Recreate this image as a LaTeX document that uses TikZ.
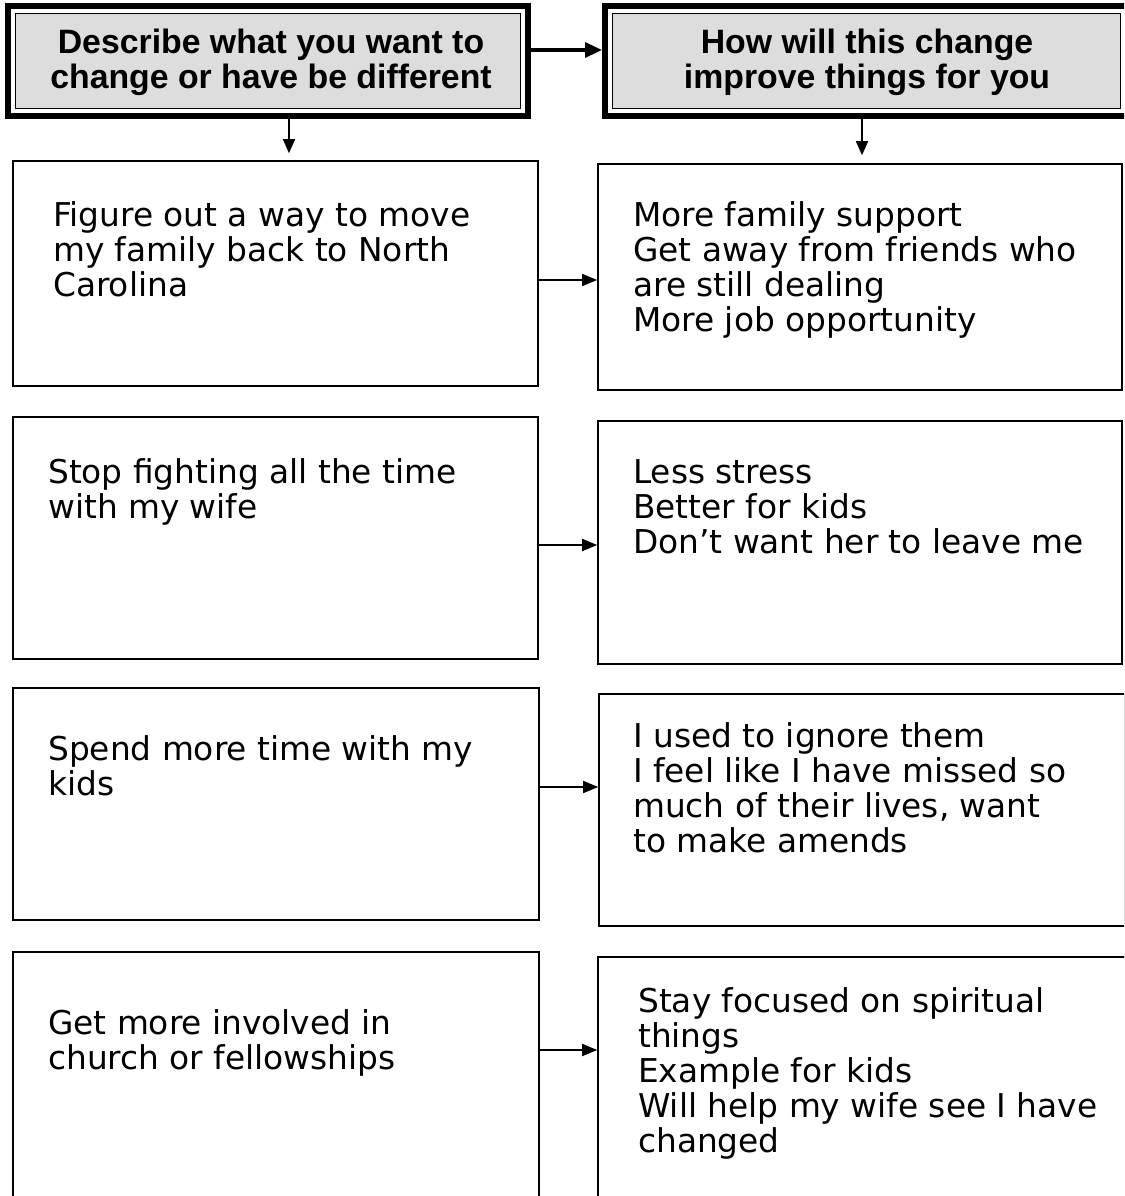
\documentclass[tikz,border=0pt]{standalone}
\usepackage{fontspec}
\setmainfont{DejaVu Sans}
\newfontfamily\headfont{Liberation Sans}
\usetikzlibrary{arrows.meta}
\definecolor{headgray}{HTML}{DDDDDD}

\begin{document}
\begin{tikzpicture}[x=1pt,y=-1pt,
  headouter/.style={draw=black, line width=6pt, fill=white, rectangle, inner sep=0pt},
  headinner/.style={draw=black, line width=1.5pt, fill=headgray, rectangle, inner sep=0pt},
  headtext/.style={font=\headfont\bfseries\fontsize{33.8}{35}\selectfont, align=center, inner sep=0pt},
  entrybox/.style={draw=black, line width=1.6pt, rectangle, inner sep=0pt},
  entrytext/.style={font=\fontsize{32.8}{35}\selectfont, align=left, anchor=north west, inner sep=0pt},
  headarrow/.style={line width=3.2pt, -{Triangle[length=17pt,width=15pt]}},
  downarrow/.style={line width=1.6pt, -{Triangle[length=14pt,width=12pt]}},
  sidearrow/.style={line width=1.6pt, -{Triangle[length=15pt,width=12pt]}}]
\useasboundingbox (0,0) rectangle (1124,1196);
\clip (0,0) rectangle (1124,1196);

% column headings
\node[headouter, minimum width=520, minimum height=110] (h1o) at (268,61) {};
\node[headinner, minimum width=505, minimum height=95] (h1i) at (268,61) {};
\node[headtext] (h1t) at (271,62) {Describe what you want to\\change or have be different};

\node[headouter, minimum width=523, minimum height=110] (h2o) at (866.5,61) {};
\node[headinner, minimum width=508, minimum height=95] (h2i) at (866.5,61) {};
\node[headtext] (h2t) at (867,62) {How will this change\\improve things for you};

% left column
\node[entrybox, minimum width=525, minimum height=225] (l1) at (275.5,273.5) {};
\node[entrybox, minimum width=525, minimum height=242] (l2) at (275.5,538) {};
\node[entrybox, minimum width=526, minimum height=232] (l3) at (276,804) {};
\node[entrybox, minimum width=526, minimum height=258] (l4) at (276,1081) {};

% right column
\node[entrybox, minimum width=524, minimum height=226] (r1) at (860,277) {};
\node[entrybox, minimum width=524, minimum height=243] (r2) at (860,542.5) {};
\node[entrybox, minimum width=526, minimum height=232] (r3) at (862,810) {};
\node[entrybox, minimum width=530, minimum height=253] (r4) at (863,1083.5) {};

% entries
\node[entrytext] (l1t) at (53,200) {\rule{0pt}{26pt}Figure out a way to move\\my family back to North\\Carolina};
\node[entrytext] (l2t) at (48,457) {\rule{0pt}{26pt}Stop fighting all the time\\with my wife};
\node[entrytext] (l3t) at (48,734) {\rule{0pt}{26pt}Spend more time with my\\kids};
\node[entrytext] (l4t) at (48,1008) {\rule{0pt}{26pt}Get more involved in\\church or fellowships};

\node[entrytext] (r1t) at (633,200) {\rule{0pt}{26pt}More family support\\Get away from friends who\\are still dealing\\More job opportunity};
\node[entrytext] (r2t) at (633,457) {\rule{0pt}{26pt}Less stress\\Better for kids\\Don’t want her to leave me};
\node[entrytext] (r3t) at (633,721) {\rule{0pt}{26pt}I used to ignore them\\I feel like I have missed so\\much of their lives, want\\to make amends};
\node[entrytext] (r4t) at (638,986) {\rule{0pt}{26pt}Stay focused on spiritual\\things\\Example for kids\\Will help my wife see I have\\changed};

% connectors
\draw[headarrow] (h1o.east |- 0,50) -- (h2o.west |- 0,50);
\draw[downarrow, shorten >=7pt] (h1o.south -| 289,0) -- (l1.north -| 289,0);
\draw[downarrow, shorten >=8pt] (h2o.south -| 862,0) -- (r1.north -| 862,0);

\draw[sidearrow] (l1.east |- 0,280) -- (r1.west |- 0,280);
\draw[sidearrow] (l2.east |- 0,545) -- (r2.west |- 0,545);
\draw[sidearrow] (l3.east |- 0,787) -- (r3.west |- 0,787);
\draw[sidearrow] (l4.east |- 0,1050) -- (r4.west |- 0,1050);
\end{tikzpicture}
\end{document}
